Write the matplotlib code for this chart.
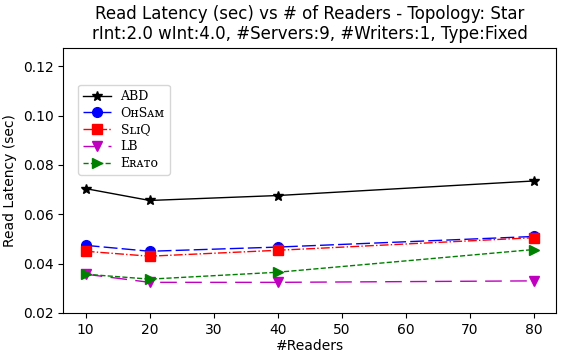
import matplotlib
matplotlib.use("Agg")
import matplotlib.pyplot as plt

readers = [10, 20, 40, 80]
abd = [0.0704, 0.0656, 0.0676, 0.0735]
ohsam = [0.0474, 0.0450, 0.0467, 0.0510]
sliq = [0.0450, 0.0430, 0.0454, 0.0505]
lb = [0.0357, 0.0324, 0.0324, 0.0330]
erato = [0.0357, 0.0337, 0.0365, 0.0457]
labels = ["ABD", "O\u029cS\u1d00\u1d0d", "S\u029f\u026aQ", "LB", "E\u0280\u1d00\u1d1b\u1d0f"]

fig = plt.figure(figsize=(5.65, 3.54), dpi=100)
ax = fig.add_axes([0.112, 0.116, 0.872, 0.749])
ax.plot(readers, abd, color="black", marker="*", ms=7, lw=1, label=labels[0])
ax.plot(readers, ohsam, color="blue", marker="o", ms=7, lw=1, dashes=(10, 3), label=labels[1])
ax.plot(readers, sliq, color="red", marker="s", ms=7, lw=1, linestyle="-.", label=labels[2])
ax.plot(readers, lb, color="m", marker="v", ms=7, lw=1, dashes=(12, 6), label=labels[3])
ax.plot(readers, erato, color="green", marker=">", ms=7, lw=1, linestyle="--", label=labels[4])

ax.set_ylim(0.02, 0.1275)
ax.set_yticks([0.02, 0.04, 0.06, 0.08, 0.10, 0.12])
ax.set_xlabel("#Readers", labelpad=2)
ax.set_ylabel("Read Latency (sec)")
ax.set_title("Read Latency (sec) vs # of Readers - Topology: Star\nrInt:2.0 wInt:4.0, #Servers:9, #Writers:1, Type:Fixed")
leg = ax.legend(loc="upper left", bbox_to_anchor=(0.03, 0.86), borderaxespad=0,
                prop={"family": ["DejaVu Serif"], "size": 9},
                labelspacing=0.3, handlelength=2.2)
fig.savefig("out.png", dpi=100)
